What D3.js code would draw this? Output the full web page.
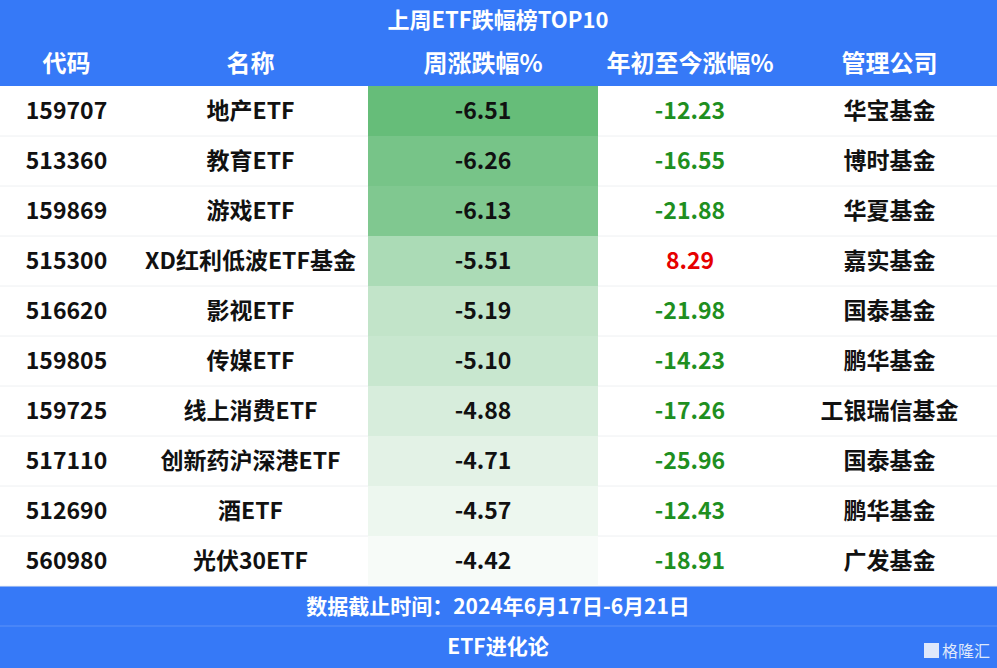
<!DOCTYPE html><html><head><meta charset="utf-8"><script src="https://cdn.jsdelivr.net/npm/d3@7"></script>
<style>body{margin:0;background:#fff}text{font-family:"Noto Sans CJK SC",sans-serif}</style></head><body><svg id="c" width="997" height="668"></svg><script>
const title="上周ETF跌幅榜TOP10";
const headers=["代码","名称","周涨跌幅%","年初至今涨幅%","管理公司"];
const codes=["159707","513360","159869","515300","516620","159805","159725","517110","512690","560980"];
const names=["地产ETF","教育ETF","游戏ETF","XD红利低波ETF基金","影视ETF","传媒ETF","线上消费ETF","创新药沪深港ETF","酒ETF","光伏30ETF"];
const weekly=[-6.51,-6.26,-6.13,-5.51,-5.19,-5.10,-4.88,-4.71,-4.57,-4.42];
const ytd=[-12.23,-16.55,-21.88,8.29,-21.98,-14.23,-17.26,-25.96,-12.43,-18.91];
const companies=["华宝基金","博时基金","华夏基金","嘉实基金","国泰基金","鹏华基金","工银瑞信基金","国泰基金","鹏华基金","广发基金"];
const footer1="数据截止时间：2024年6月17日-6月21日", footer2="ETF进化论", mark="格隆汇";
const blue="#3679f7";
const svg=d3.select("#c");
const colX=[0,133,368,598,782,997];
const y=d3.scaleBand().domain(d3.range(codes.length)).range([86,586]);
const col=d3.scaleLinear().domain([d3.min(weekly),d3.max(weekly)]).range(["#66bd79","#f7fbf8"]);
svg.append("rect").attr("width",997).attr("height",86).attr("fill",blue);
svg.append("rect").attr("y",586).attr("width",997).attr("height",82).attr("fill",blue);
svg.append("line").attr("x1",0).attr("x2",997).attr("y1",626).attr("y2",626).attr("stroke","#5d93f8");
svg.append("text").attr("x",498).attr("y",28).attr("text-anchor","middle").attr("fill","#fff").attr("font-size",22).attr("font-weight",700).text(title);
headers.forEach((h,i)=>svg.append("text").attr("x",(colX[i]+colX[i+1])/2).attr("y",72).attr("text-anchor","middle").attr("fill","#fff").attr("font-size",24).attr("font-weight",700).text(h));
const g=svg.selectAll("g.r").data(codes).join("g").attr("transform",(d,i)=>`translate(0,${y(i)})`);
g.append("line").attr("x1",0).attr("x2",997).attr("y1",y.bandwidth()).attr("y2",y.bandwidth()).attr("stroke","#eef0f2");
g.append("rect").attr("x",colX[2]).attr("width",colX[3]-colX[2]).attr("height",y.bandwidth()).attr("fill",(d,i)=>col(weekly[i]));
const cell=(i,txt,fill)=>g.append("text").attr("x",(colX[i]+colX[i+1])/2).attr("y",y.bandwidth()/2+8).attr("text-anchor","middle").attr("font-size",23).attr("font-weight",700).attr("fill",fill).text(txt);
cell(0,(d,i)=>codes[i],"#111");cell(1,(d,i)=>names[i],"#111");
cell(2,(d,i)=>weekly[i].toFixed(2),"#111");
cell(3,(d,i)=>ytd[i].toFixed(2),(d,i)=>ytd[i]<0?"#1f8f1f":"#e60000");
cell(4,(d,i)=>companies[i],"#111");
svg.append("text").attr("x",498).attr("y",614).attr("text-anchor","middle").attr("fill","#fff").attr("font-size",21).attr("font-weight",700).text(footer1);
svg.append("text").attr("x",498).attr("y",654).attr("text-anchor","middle").attr("fill","#fff").attr("font-size",21).attr("font-weight",700).text(footer2);
svg.append("rect").attr("x",924).attr("y",643).attr("width",15).attr("height",15).attr("fill","#dfe8fb");
svg.append("text").attr("x",942).attr("y",657).attr("fill","#dfe8fb").attr("font-size",16).text(mark);
</script></body></html>
